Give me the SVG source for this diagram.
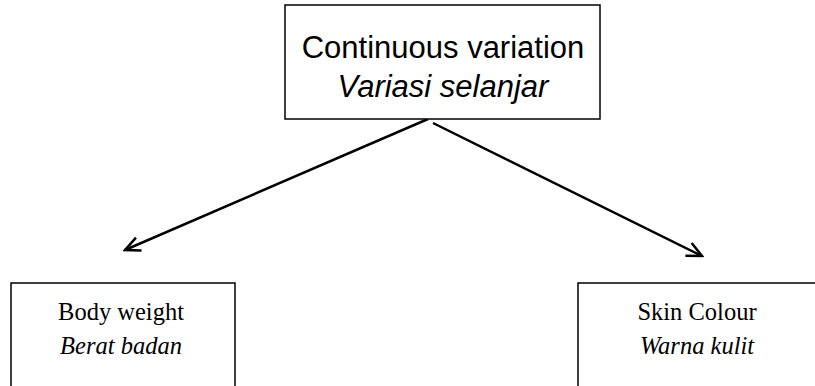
<svg xmlns="http://www.w3.org/2000/svg" width="815" height="386" viewBox="0 0 815 386">
<style>
.box{fill:#fff;stroke:#000;stroke-width:1.5}
.sans{font-family:"Liberation Sans",Arial,sans-serif;font-size:31px;fill:#000;text-anchor:middle}
.serif{font-family:"Liberation Serif","Times New Roman",serif;font-size:24.5px;fill:#000;text-anchor:middle}
.it{font-style:italic}
.conn{stroke:#000;stroke-width:2.5;fill:none;marker-end:url(#arr)}
</style>
<defs>
<marker id="arr" viewBox="0 0 20 20" refX="18" refY="10" markerWidth="20" markerHeight="20" markerUnits="userSpaceOnUse" orient="auto">
<path d="M3,3 L18,10 L3,17" fill="none" stroke="#000" stroke-width="2.5"/>
</marker>
</defs>
<rect width="815" height="386" fill="#fff"/>
<g id="connectors">
<line class="conn" x1="428" y1="119" x2="125" y2="250"/>
<line class="conn" x1="433" y1="123" x2="702" y2="256"/>
</g>
<g id="n-continuous">
<rect class="box" x="285" y="5" width="315" height="114"/>
<text class="sans" x="443" y="58">Continuous variation</text>
<text class="sans it" x="443" y="97">Variasi selanjar</text>
</g>
<g id="n-body">
<rect class="box" x="11" y="283" width="224" height="110"/>
<text class="serif" x="121" y="320">Body weight</text>
<text class="serif it" x="121" y="354">Berat badan</text>
</g>
<g id="n-skin">
<rect class="box" x="578" y="283" width="245" height="110"/>
<text class="serif" x="697" y="320">Skin Colour</text>
<text class="serif it" x="697" y="354">Warna kulit</text>
</g>
</svg>
